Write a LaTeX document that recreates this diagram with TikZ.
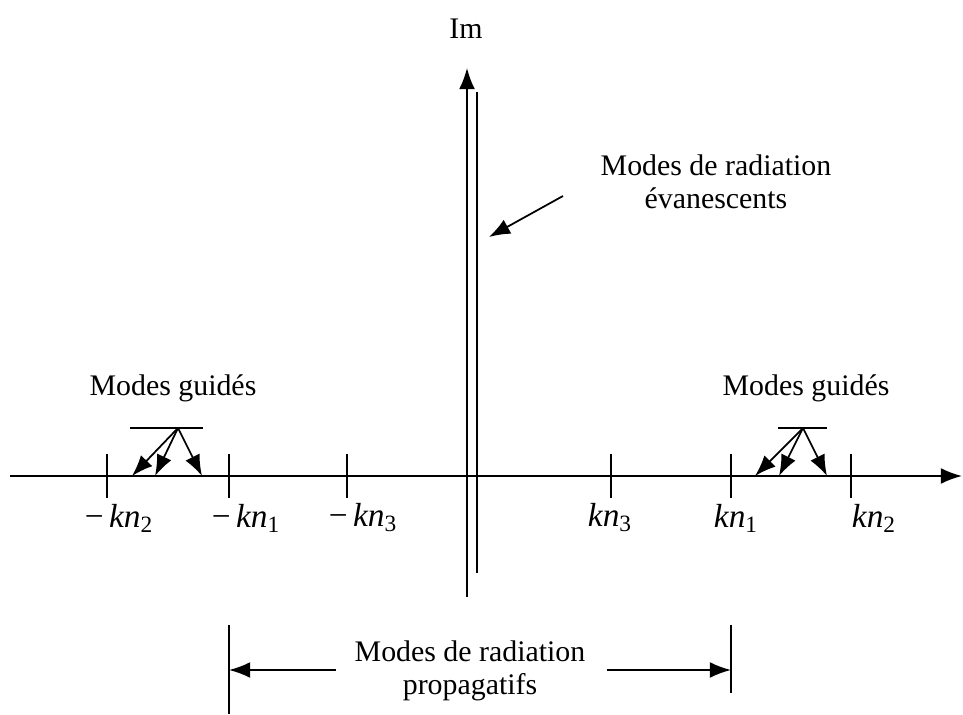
\documentclass[tikz,border=0pt]{standalone}
\usepackage{fontspec}
\setmainfont{Liberation Serif}
\usetikzlibrary{arrows.meta,positioning,calc}

\begin{document}
\begin{tikzpicture}[x=0.02cm, y=-0.02cm, >={Latex[length=12pt,width=9pt]}, font=\fontsize{17}{18.5}\selectfont]
    \useasboundingbox (0,0) rectangle (963,715);

    % axes
    \coordinate (xl) at (10,476);
    \coordinate (xr) at (962,476);
    \coordinate (ytop) at (467,68);
    \coordinate (ybot) at (467,597);
    \coordinate (btop) at (477,92);
    \coordinate (bbot) at (477,573);
    \draw[->, line width=1pt] (xl) -- (xr);
    \draw[->, line width=1pt] (ybot) -- (ytop);
    \draw[line width=1pt] (bbot) -- (btop);
    \node (im) at (466,29) {Im};

    % ticks on the real axis
    \foreach \name/\x in {m2/107, m1/229, m3/347, p3/611, p1/731, p2/851} {
      \coordinate (t\name) at (\x,476);
      \draw[line width=1pt] ($(t\name)+(0,-22)$) -- ($(t\name)+(0,22)$);
    }
    \tikzset{kn/.style={font=\fontsize{19}{22}\selectfont}}
    \node[kn] (lm2) at (119,518) {−\,\textit{kn}\textsubscript{2}};
    \node[kn] (lm1) at (246,518) {−\,\textit{kn}\textsubscript{1}};
    \node[kn] (lm3) at (363,518) {−\,\textit{kn}\textsubscript{3}};
    \node[kn] (lp3) at (610,518) {\textit{kn}\textsubscript{3}};
    \node[kn] (lp1) at (736,518) {\textit{kn}\textsubscript{1}};
    \node[kn] (lp2) at (874,518) {\textit{kn}\textsubscript{2}};

    % guided modes
    \node (gl) at (173,388) {Modes guidés};
    \node (gr) at (806,388) {Modes guidés};
    \coordinate (al) at (178,428);
    \coordinate (ar) at (803,428);
    \draw[line width=1pt] (130,428) -- (203,428);
    \draw[line width=1pt] (778,428) -- (827,428);
    \foreach \x in {132,155,202}
      \draw[->, line width=1pt] (al) -- (\x,476);
    \foreach \x in {755,779,827}
      \draw[->, line width=1pt] (ar) -- (\x,476);

    % evanescent modes
    \node[align=center] (evan) at (716,182) {Modes de radiation\\évanescents};
    \coordinate (es) at (563,196);
    \coordinate (ee) at (489,237);
    \draw[->, line width=1pt] (es) -- (ee);

    % propagating modes
    \coordinate (pl) at (229,670);
    \coordinate (pr) at (731,670);
    \draw[line width=1pt] (229,625) -- (229,714);
    \draw[line width=1pt] (731,625) -- (731,693);
    \node[align=center] (prop) at (470,671) {Modes de radiation\\propagatifs};
    \draw[->, line width=1pt] (336,670) -- (pl);
    \draw[->, line width=1pt] (607,670) -- (pr);
\end{tikzpicture}
\end{document}
